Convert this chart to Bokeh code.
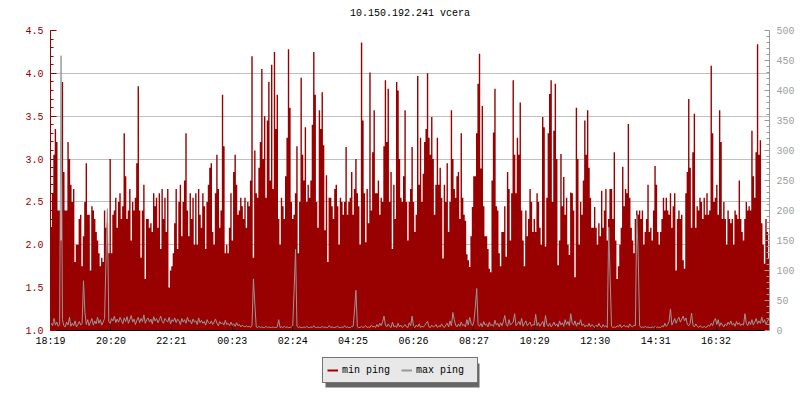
from bokeh.plotting import figure
from bokeh.layouts import column
from bokeh.models import (Range1d, LinearAxis, FixedTicker, Legend, LegendItem,
                          ColumnDataSource, NumeralTickFormatter, Label)
from bokeh.embed import file_html
from bokeh.resources import INLINE

title_text = "10.150.192.241 vcera"
start_time = "18:19"
span_minutes = 1440
x_tick_labels = ["18:19", "20:20", "22:21", "00:23", "02:24", "04:25",
                 "06:26", "08:27", "10:29", "12:30", "14:31", "16:32"]
left_ticks = [1.0, 1.5, 2.0, 2.5, 3.0, 3.5, 4.0, 4.5]
right_ticks = [0, 50, 100, 150, 200, 250, 300, 350, 400, 450, 500]
series_names = ["min ping", "max ping"]

# min ping (left axis, ms) - one value per sample, 18:19 .. 18:19 next day
min_ping = [
    2.2, 2.6, 3.05, 3.35, 3.2, 2.4, 2.4, 2.05, 3.9, 2.85,
    2.4, 2.4, 3.2, 3.0, 2.7, 2.5, 2.65, 1.8, 2.0, 2.0,
    2.3, 2.35, 1.75, 2.1, 2.5, 2.95, 2.35, 2.35, 1.7, 2.45,
    2.4, 2.3, 2.15, 2.05, 1.9, 1.75, 1.85, 1.8, 2.4, 2.2,
    2.25, 1.9, 3.0, 1.9, 2.35, 2.4, 2.55, 2.2, 2.5, 2.6,
    2.3, 2.45, 3.3, 2.8, 2.3, 2.4, 2.65, 2.05, 2.5, 2.4,
    2.55, 2.95, 3.85, 2.4, 1.85, 2.4, 2.7, 1.6, 2.3, 2.3,
    2.2, 2.25, 2.15, 2.6, 2.45, 2.55, 2.2, 2.6, 1.95, 2.65,
    2.3, 2.55, 2.15, 2.65, 1.5, 1.7, 1.75, 1.9, 2.25, 2.65,
    1.95, 2.5, 2.7, 2.1, 2.5, 2.75, 3.3, 2.4, 2.1, 2.6,
    2.3, 2.55, 2.0, 2.6, 2.0, 2.65, 2.35, 2.2, 2.6, 2.45,
    1.95, 2.5, 2.7, 2.9, 2.95, 2.15, 2.0, 2.6, 3.05, 2.65,
    2.2, 2.4, 3.75, 3.15, 1.9, 2.0, 1.9, 2.2, 2.6, 2.05,
    2.85, 3.05, 2.7, 2.35, 2.4, 2.55, 2.45, 2.3, 2.55, 2.2,
    2.5, 2.45, 2.75, 4.2, 1.85, 3.1, 2.6, 2.55, 2.9, 3.2,
    4.05, 3.0, 3.5, 2.55, 3.45, 3.9, 2.75, 4.1, 2.65, 4.25,
    3.35, 3.75, 2.3, 2.0, 2.55, 2.45, 2.3, 2.8, 3.25, 4.28,
    3.6, 2.5, 2.3, 2.35, 2.6, 3.15, 1.9, 2.5, 3.95, 3.05,
    2.75, 3.37, 2.5, 2.7, 2.55, 2.75, 3.4, 4.25, 3.75, 2.5,
    2.2, 3.57, 3.35, 3.78, 3.16, 2.17, 2.81, 1.8, 2.55, 2.55,
    2.45, 2.3, 2.65, 2.7, 2.45, 2.0, 2.55, 2.5, 2.35, 2.5,
    3.14, 2.35, 2.5, 2.55, 2.85, 2.35, 2.65, 3.0, 2.6, 2.45,
    2.0, 4.36, 3.45, 2.6, 2.03, 2.65, 2.25, 4.01, 2.4, 3.08,
    3.57, 2.6, 2.6, 2.75, 2.35, 2.55, 2.5, 3.15, 3.92, 3.2,
    3.82, 2.5, 2.85, 1.95, 2.7, 2.3, 3.9, 3.8, 3.0, 2.55,
    2.5, 2.8, 3.57, 2.5, 2.05, 2.5, 2.65, 3.14, 2.5, 2.15,
    2.35, 3.97, 2.7, 3.25, 2.5, 2.83, 3.2, 3.35, 4.0, 3.25,
    3.05, 3.49, 3.0, 2.35, 2.7, 3.25, 2.7, 2.9, 2.55, 1.84,
    2.7, 2.5, 2.95, 2.15, 2.5, 3.57, 3.0, 2.65, 2.55, 2.8,
    2.85, 2.3, 3.3, 2.55, 2.35, 2.28, 1.89, 1.82, 1.74, 2.1,
    2.44, 2.8, 2.8, 3.3, 3.88, 4.23, 2.89, 3.62, 2.45, 2.1,
    2.1, 1.95, 1.72, 1.68, 2.75, 3.31, 3.82, 2.45, 2.4, 1.9,
    1.75, 2.15, 2.15, 2.45, 1.86, 2.85, 2.65, 2.05, 2.6, 3.92,
    3.05, 2.6, 3.25, 3.05, 3.66, 2.4, 2.05, 1.75, 2.4, 2.1,
    2.3, 2.65, 2.5, 2.15,
    2.3, 2.15, 2.6, 2.5, 2.2, 2.0, 3.49, 3.37, 1.98, 2.55,
    3.3, 3.76, 3.92, 2.5, 3.33, 3.88, 3.0, 1.76, 2.05, 3.06,
    2.45, 2.79, 2.35, 2.55, 2.0, 1.88, 2.61, 2.6, 2.4, 1.62,
    3.6, 3.0, 2.0, 2.5, 2.35, 2.75, 3.45, 3.05, 3.57, 2.9,
    2.55, 2.2, 2.2, 2.44, 2.2, 2.0, 2.25, 2.1, 2.63, 2.2,
    2.4, 2.65, 2.05, 2.3, 2.65, 2.65, 2.3, 3.08, 2.05, 1.6,
    1.75, 2.0, 2.2, 2.91, 2.45, 2.65, 2.6, 3.41, 2.55, 2.2,
    2.05, 1.9, 2.3, 2.4, 2.35, 2.4, 2.3, 2.4, 2.0, 2.15,
    2.3, 2.7, 2.15, 2.2, 2.05, 2.4, 2.92, 2.7, 2.15, 2.0,
    2.15, 2.3, 2.55, 2.4, 2.55, 2.4, 2.35, 2.6, 2.2, 2.45,
    2.6, 1.7, 2.3, 2.4, 2.3, 2.35, 1.82, 1.72, 2.6, 2.85,
    3.7, 2.9, 2.2, 3.08, 3.53, 2.2, 2.45, 2.4, 2.55, 2.5,
    2.3, 2.55, 2.35, 2.6, 2.35, 2.4, 4.09, 3.3, 2.5, 2.55,
    2.7, 2.35, 3.57, 3.2, 2.3, 2.5, 2.3, 2.0, 2.4, 2.3,
    2.25, 2.3, 2.0, 2.4, 2.35, 2.3, 2.75, 2.3, 2.15, 2.05,
    2.3, 2.5, 2.4, 2.45, 2.4, 3.33, 2.8, 2.55, 3.08, 4.34,
    3.05, 3.22, 2.25, 2.0, 1.78, 2.3, 2.15, 1.84,
]

# max ping (right axis, ms)
max_ping = [
    12, 8, 20, 9, 14, 7, 10, 458, 18, 8,
    6, 14, 9, 22, 7, 12, 8, 16, 6, 10,
    15, 9, 12, 83, 30, 10, 18, 8, 14, 20,
    9, 16, 11, 22, 12, 18, 9, 14, 20, 117,
    203, 15, 12, 20, 16, 24, 13, 19, 14, 22,
    17, 11, 21, 15, 23, 12, 18, 25, 14, 19,
    10, 17, 22, 13, 20, 15, 26, 12, 18, 21,
    14, 19, 11, 23, 16, 20, 13, 18, 24, 15,
    12, 20, 17, 14, 22, 11, 18, 15, 21, 13,
    19, 16, 10, 20, 14, 18, 12, 22, 15, 17,
    11, 19, 14, 16, 10, 21, 13, 17, 12, 15,
    9, 18, 13, 11, 16, 10, 14, 19, 12, 8,
    15, 11, 13, 9, 17, 10, 12, 8, 14, 9,
    11, 7, 13, 8, 10, 6, 9, 7, 6, 8,
    6, 7, 5, 9, 86, 44, 6, 5, 7, 5,
    6, 5, 5, 7, 5, 6, 5, 5, 6, 5,
    5, 6, 18, 5, 6, 5, 7, 5, 6, 5,
    5, 6, 8, 69, 135, 7, 5, 6, 5, 5,
    6, 5, 7, 5, 5, 6, 5, 8, 5, 5,
    6, 5, 5, 7, 5, 6, 5, 5, 8, 5,
    6, 5, 5, 6, 7, 5, 5, 6, 5, 8,
    5, 6, 5, 5, 7, 6, 34, 67, 6, 5,
    5, 7, 5, 6, 8, 5, 6, 5, 9, 6,
    7, 5, 10, 6, 12, 8, 15, 24, 9, 6,
    11, 7, 5, 14, 6, 8, 5, 12, 6, 9,
    5, 7, 10, 6, 5, 13, 8, 24, 7, 5,
    9, 6, 11, 5, 7, 6, 8, 12, 15, 6,
    5, 9, 6, 7, 10, 5, 8, 6, 11, 7,
    5, 9, 12, 6, 16, 8, 30, 18, 9, 6,
    11, 7, 14, 8, 10, 6, 18, 9, 22, 12,
    8, 15, 39, 70, 10, 7, 12, 6, 15, 9,
    11, 6, 14, 8, 10, 7, 17, 9, 12, 6,
    13, 8, 15, 25, 10, 7, 18, 9, 12, 14,
    28, 8, 11, 15, 9, 20, 7, 12, 16, 8,
    11, 14, 7, 10,
    9, 27, 8, 13, 7, 11, 15, 6, 25, 10,
    7, 12, 6, 9, 14, 8, 11, 6, 16, 9,
    13, 7, 18, 10, 15, 8, 28, 12, 9, 16,
    7, 13, 10, 18, 8, 11, 6, 9, 7, 12,
    6, 10, 8, 5, 9, 6, 12, 7, 5, 10,
    6, 8, 5, 172, 89, 7, 5, 6, 5, 8,
    6, 10, 5, 7, 9, 6, 8, 5, 11, 7,
    6, 9, 8, 192, 125, 8, 5, 6, 5, 7,
    5, 6, 5, 5, 6, 5, 7, 5, 6, 5,
    5, 8, 6, 12, 7, 10, 15, 36, 9, 14,
    20, 12, 18, 22, 14, 19, 24, 16, 21, 10,
    8, 12, 29, 9, 6, 11, 7, 5, 8, 6,
    5, 7, 5, 6, 9, 7, 12, 8, 16, 20,
    10, 18, 7, 13, 9, 6, 11, 8, 14, 10,
    16, 9, 12, 7, 15, 10, 13, 8, 11, 9,
    28, 12, 8, 15, 10, 18, 9, 14, 20, 11,
    16, 12, 22, 13, 18, 10, 15, 20,
]

FONT = "Liberation Mono"
RED = "#990000"
GRAY = "#999999"

# page geometry (pixels)
PAGE_W = 800
FRAME_LEFT, FRAME_RIGHT = 50, 769
TITLE_H, CHART_H, LEGEND_STRIP_H = 22, 328, 50
TITLE_Y = 9                               # from the bottom of the title strip
LEGEND_LEFT, LEGEND_BOTTOM = 322, 17      # inside the legend strip
SHADOW_DX, SHADOW_DY = 3, 4
LEGEND_W, LEGEND_H = 154, 24


def minutes(s):
    h, m = s.split(":")
    return int(h) * 60 + int(m)


def strip(height):
    f = figure(width=PAGE_W, height=height, output_backend="svg", toolbar_location=None,
               x_range=Range1d(FRAME_LEFT, FRAME_RIGHT), y_range=Range1d(0, height),
               x_axis_type=None, y_axis_type=None,
               min_border_left=FRAME_LEFT, min_border_right=PAGE_W - FRAME_RIGHT,
               min_border_top=0, min_border_bottom=0)
    f.outline_line_color = None
    f.xgrid.visible = False
    f.ygrid.visible = False
    f.background_fill_color = "white"
    f.border_fill_color = "white"
    return f


t0 = minutes(start_time)
tick_pos = [(minutes(s) - t0) % span_minutes for s in x_tick_labels]
n = min(len(min_ping), len(max_ping))
dt = span_minutes / n
t_mid = [(i + 0.5) * dt for i in range(n)]

# step outline for the min-ping area (each sample covers its own time slot)
step_x, step_y = [], []
for i in range(n):
    step_x += [i * dt, (i + 1) * dt]
    step_y += [min_ping[i], min_ping[i]]

area_src = ColumnDataSource(dict(x=step_x, y=step_y))
line_src = ColumnDataSource(dict(t=t_mid, hi=max_ping[:n]))

# ---- title strip
tf = strip(TITLE_H)
tf.add_layout(Label(x=(FRAME_LEFT + FRAME_RIGHT) / 2, y=TITLE_Y, text=title_text,
                    text_align="center", text_baseline="middle", text_font=FONT,
                    text_font_size="10px", text_color="black"))

# ---- chart
p = figure(width=PAGE_W, height=CHART_H, output_backend="svg", toolbar_location=None,
           x_range=Range1d(0, span_minutes),
           y_range=Range1d(left_ticks[0], left_ticks[-1]),
           min_border_left=FRAME_LEFT, min_border_right=PAGE_W - FRAME_RIGHT,
           min_border_top=8, min_border_bottom=20)
p.extra_y_ranges = {"ms": Range1d(right_ticks[0], right_ticks[-1])}
p.outline_line_color = None
p.background_fill_color = "white"
p.border_fill_color = "white"

p.varea(x="x", y1=left_ticks[0], y2="y", source=area_src, fill_color=RED)
p.line(x="t", y="hi", source=line_src, y_range_name="ms", line_color=GRAY, line_width=1)

p.xgrid.visible = False
p.ygrid.grid_line_color = "#c0c0c0"
p.ygrid.ticker = FixedTicker(ticks=left_ticks)

xa = p.xaxis[0]
xa.ticker = FixedTicker(ticks=tick_pos)
xa.major_label_overrides = {int(v): s for v, s in zip(tick_pos, x_tick_labels)}
xa.axis_line_color = "black"
xa.major_tick_line_color = "black"
xa.major_tick_in = 4
xa.major_tick_out = 0
xa.minor_tick_line_color = None
xa.major_label_text_font = FONT
xa.major_label_text_font_size = "10px"
xa.major_label_text_color = "black"
xa.major_label_standoff = 5

ya = p.yaxis[0]
minor_left = [round(left_ticks[0] + 0.1 * i, 1) for i in range(36)]
ya.ticker = FixedTicker(ticks=left_ticks, minor_ticks=minor_left)
ya.formatter = NumeralTickFormatter(format="0.0")
for attr in ("axis_line_color", "major_tick_line_color", "minor_tick_line_color",
             "major_label_text_color"):
    setattr(ya, attr, RED)
ya.major_tick_in = 6
ya.major_tick_out = 0
ya.minor_tick_in = 3
ya.minor_tick_out = 0
ya.major_label_text_font = FONT
ya.major_label_text_font_size = "10px"
ya.major_label_standoff = 7

minor_right = [10 * i for i in range(51)]
ra = LinearAxis(y_range_name="ms", ticker=FixedTicker(ticks=right_ticks, minor_ticks=minor_right))
for attr in ("axis_line_color", "major_tick_line_color", "minor_tick_line_color"):
    setattr(ra, attr, GRAY)
ra.major_label_text_color = "#a0a0a0"
ra.major_tick_in = 5
ra.major_tick_out = 0
ra.minor_tick_in = 3
ra.minor_tick_out = 0
ra.major_label_text_font = FONT
ra.major_label_text_font_size = "10px"
ra.major_label_standoff = 7
p.add_layout(ra, "right")

# ---- legend strip (frame aligned with the chart frame; x in page pixels)
lf = strip(LEGEND_STRIP_H)
lf.quad(left=[LEGEND_LEFT + SHADOW_DX], right=[LEGEND_LEFT + SHADOW_DX + LEGEND_W],
        bottom=[LEGEND_BOTTOM - SHADOW_DY], top=[LEGEND_BOTTOM - SHADOW_DY + LEGEND_H],
        fill_color="#666666", line_color=None)

nan = float("nan")
r_min = lf.line(x=[nan], y=[nan], line_color=RED, line_width=2)
r_max = lf.line(x=[nan], y=[nan], line_color=GRAY, line_width=2)
legend = Legend(items=[LegendItem(label=series_names[0], renderers=[r_min]),
                       LegendItem(label=series_names[1], renderers=[r_max])],
                location=(LEGEND_LEFT - FRAME_LEFT, LEGEND_BOTTOM),
                orientation="horizontal", margin=0,
                padding=4, spacing=2, glyph_width=11, glyph_height=16,
                label_height=16, label_width=57, label_standoff=4,
                label_text_font=FONT, label_text_font_size="10px",
                click_policy="none")
legend.background_fill_color = "#e8e8e8"
legend.background_fill_alpha = 1.0
legend.border_line_color = "black"
legend.border_line_width = 1
legend.label_text_color = "black"
lf.add_layout(legend, "center")

layout = column(tf, p, lf, spacing=0)
open("out.html", "w").write(file_html(layout, INLINE))
